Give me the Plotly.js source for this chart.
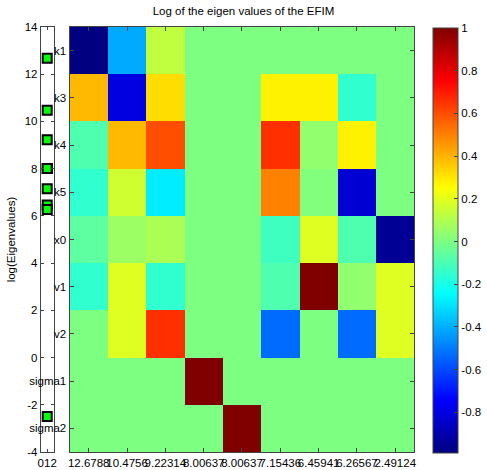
<!DOCTYPE html>
<html>
<head>
<meta charset="utf-8">
<script src="https://cdn.plot.ly/plotly-3.0.1.min.js"></script>
<style>html,body{margin:0;padding:0;background:#fff;}#chart{width:487px;height:470px;}</style>
</head>
<body>
<div id="chart"></div>
<script>
// ---- data ----
var rowNames = ["k1", "k3", "k4", "k5", "x0", "v1", "v2", "sigma1", "sigma2"];
var colLabels = ["12.6788", "10.4756", "9.22314", "8.00637", "8.00637", "7.15436", "6.45941", "6.26567", "2.49124"];
var logEigenvalues = [12.6788, 10.4756, 9.22314, 8.00637, 8.00637, 7.15436, 6.45941, 6.26567, -2.49124];

var k1     = [-0.99, -0.41, 0.13, 0, 0, 0, 0, 0, 0];
var k3     = [0.39, -0.80, 0.32, 0, 0, 0.28, 0.28, -0.15, 0];
var k4     = [-0.09, 0.39, 0.60, 0, 0, 0.66, 0.04, 0.28, 0];
var k5     = [-0.15, 0.16, -0.28, 0, 0, 0.50, 0.01, -0.83, 0];
var x0     = [-0.06, 0.06, 0.09, 0, 0, -0.12, 0.19, -0.09, -0.95];
var v1     = [-0.15, 0.19, -0.15, 0, 0, -0.09, 1.00, 0.04, 0.19];
var v2     = [0, 0.19, 0.66, 0, 0, -0.53, 0, -0.53, 0.19];
var sigma1 = [0, 0, 0, 1.00, 0, 0, 0, 0, 0];
var sigma2 = [0, 0, 0, 0, 1.00, 0, 0, 0, 0];

var leftTickVals = [-4, -2, 0, 2, 4, 6, 8, 10, 12, 14];
var leftTickText = ["-4", "-2", "0", "2", "4", "6", "8", "10", "12", "14"];
var cbTickVals = [-0.8, -0.6, -0.4, -0.2, 0, 0.2, 0.4, 0.6, 0.8, 1];
var cbTickText = ["-0.8", "-0.6", "-0.4", "-0.2", "0", "0.2", "0.4", "0.6", "0.8", "1"];

// ---- build ----
var z = [k1, k3, k4, k5, x0, v1, v2, sigma1, sigma2];
var flat = [].concat.apply([], z);
var zmin = Math.min.apply(null, flat), zmax = Math.max.apply(null, flat);
var colIdx = colLabels.map(function (_, i) { return i + 1; });
var rowIdx = rowNames.map(function (_, i) { return i; });

var jet = [[0, 'rgb(0,0,128)'], [0.125, 'rgb(0,0,255)'], [0.375, 'rgb(0,255,255)'],
           [0.625, 'rgb(255,255,0)'], [0.875, 'rgb(255,0,0)'], [1, 'rgb(128,0,0)']];

var FONT = {family: 'Liberation Sans, Arial, Helvetica, sans-serif', size: 11.5, color: '#000'};
var LC = '#444';

var traces = [
  {
    type: 'scatter', mode: 'markers', xaxis: 'x', yaxis: 'y',
    x: logEigenvalues.map(function () { return 1; }), y: logEigenvalues,
    marker: {symbol: 'square', size: 9, color: '#00ff00', line: {color: '#000', width: 2}},
    showlegend: false, hoverinfo: 'y'
  },
  {
    type: 'heatmap', xaxis: 'x2', yaxis: 'y2',
    x: colIdx, y: rowIdx, z: z, zmin: zmin, zmax: zmax, colorscale: jet,
    colorbar: {
      x: 436 / 487, xanchor: 'left', xpad: 0, ypad: 0,
      y: 1 - 240.5 / 470, yanchor: 'middle', len: 425 / 470, lenmode: 'fraction',
      thickness: 25, thicknessmode: 'pixels',
      outlinewidth: 1, outlinecolor: LC,
      tickvals: cbTickVals, ticktext: cbTickText, ticks: 'inside', ticklen: 4, tickcolor: LC,
      tickfont: FONT
    }
  }
];

var layout = {
  width: 487, height: 470,
  margin: {l: 0, r: 0, t: 0, b: 0},
  paper_bgcolor: '#fff', plot_bgcolor: '#fff',
  font: FONT, showlegend: false,
  title: {text: 'Log of the eigen values of the EFIM', font: FONT, x: 243.5 / 487, xanchor: 'center', y: 1 - 11 / 470, yanchor: 'middle'},
  xaxis: {
    domain: [41 / 487, 54 / 487], range: [0, 2], tickvals: [0, 1, 2], ticktext: ['0', '1', '2'], tickangle: 0,
    showgrid: false, zeroline: false, showline: true, mirror: 'ticks', linecolor: LC, linewidth: 1,
    ticks: 'inside', ticklen: 3, tickcolor: LC, tickfont: FONT, anchor: 'y'
  },
  yaxis: {
    domain: [1 - 452 / 470, 1 - 27 / 470], range: [-4, 14], tickvals: leftTickVals, ticktext: leftTickText,
    showgrid: false, zeroline: false, showline: true, mirror: 'ticks', linecolor: LC, linewidth: 1,
    ticks: 'inside', ticklen: 3, tickcolor: LC, tickfont: FONT, anchor: 'x',
    title: {text: 'log(Eigenvalues)', font: FONT, standoff: 6}
  },
  xaxis2: {
    domain: [70 / 487, 417 / 487], range: [0.5, 9.5], tickvals: colIdx, ticktext: colLabels, tickangle: 0,
    showgrid: false, zeroline: false, showline: true, mirror: 'ticks', linecolor: LC, linewidth: 1,
    ticks: 'inside', ticklen: 4, tickcolor: LC, tickfont: FONT, anchor: 'y2'
  },
  yaxis2: {
    domain: [1 - 452 / 470, 1 - 27 / 470], range: [8.5, -0.5], tickvals: rowIdx, ticktext: rowNames,
    showgrid: false, zeroline: false, showline: true, mirror: 'ticks', linecolor: LC, linewidth: 1,
    ticks: 'inside', ticklen: 4, tickcolor: LC, tickfont: FONT, anchor: 'x2'
  }
};

Plotly.newPlot('chart', traces, layout, {displayModeBar: false, staticPlot: true});
</script>
</body>
</html>
